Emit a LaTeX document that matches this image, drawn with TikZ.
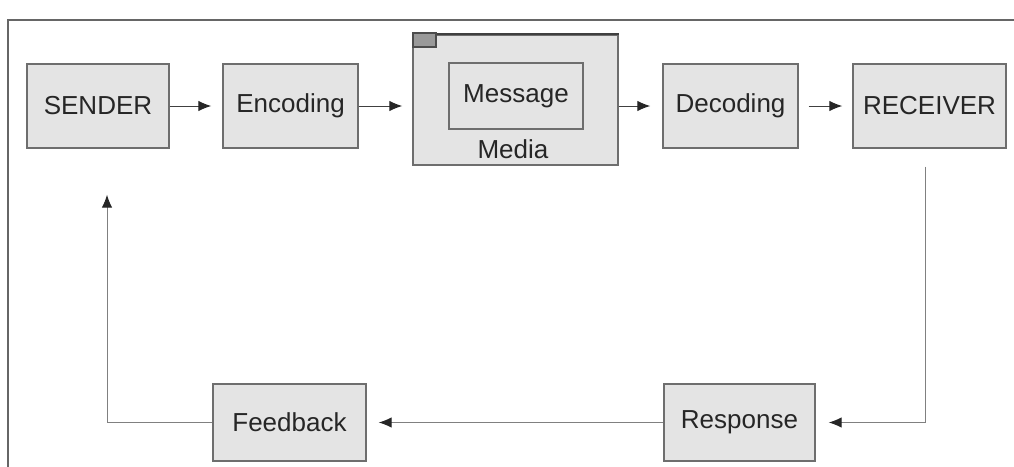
\documentclass[tikz,border=0pt]{standalone}
\usepackage{fontspec}
\setmainfont{Liberation Sans}
\usetikzlibrary{arrows.meta}

\definecolor{boxfondo}{HTML}{E4E4E4}
\definecolor{boxborde}{HTML}{6E6E6E}

\tikzset{
  caja/.style={draw=boxborde, fill=boxfondo, line width=1pt, text=black!85,
    minimum height=2.1cm, inner sep=0pt, font=\fontsize{18.5}{22}\selectfont},
  flecha/.style={-{Latex[length=3.2mm,width=2.6mm,color=black!85]}, draw=black!75, line width=0.7pt},
  retorno/.style={flecha, draw=black!50},
}

\begin{document}
\begin{tikzpicture}[x=0.025cm, y=-0.025cm]
  \useasboundingbox (0,0) rectangle (1014,467);

  % marco exterior
  \draw[black!60, line width=1.4pt] (8,467) -- (8,20) -- (1014,20);

  % fila de arriba
  \node[caja, minimum width=3.55cm]  (sender)   at (98,106)    {SENDER};
  \node[caja, minimum width=3.375cm] (encoding) at (290.5,106) {Encoding};
  \node[caja, minimum width=5.125cm, minimum height=3.25cm] (media) at (515.5,100) {};
  \draw[black!75, line width=1.6pt] (media.north west) -- (media.north east);
  \node[draw=black!70, fill=black!40, line width=1pt, minimum width=0.575cm,
    minimum height=0.35cm, inner sep=0pt, anchor=north west] (pestana)
    at ([yshift=0.05cm]media.north west) {};
  \node[caja, minimum width=3.35cm, minimum height=1.65cm] (message) at (516,96) {Message};
  \node[font=\fontsize{18.5}{22}\selectfont, text=black!85, inner sep=0pt, anchor=base]
    (medialabel) at (513,158) {Media};
  \node[caja, minimum width=3.375cm] (decoding) at (730.5,106) {Decoding};
  \node[caja, minimum width=3.825cm] (receiver) at (929.5,106) {RECEIVER};

  % fila de abajo
  \node[caja, minimum width=3.825cm, minimum height=1.925cm] (feedback) at (289.5,422.5) {Feedback};
  \node[caja, minimum width=3.775cm, minimum height=1.925cm] (response) at (739.5,422.5) {Response};

  % flechas
  \draw[flecha, shorten >=0.275cm] (sender) -- (encoding);
  \draw[flecha, shorten >=0.25cm] (encoding.east) -- (encoding.east -| media.west);
  \draw[flecha, shorten >=0.3cm] (media.east |- decoding) -- (decoding.west);
  \draw[flecha, shorten <=0.25cm, shorten >=0.25cm] (decoding) -- (receiver);

  % vuelta
  \draw[retorno, shorten <=0.45cm, shorten >=0.325cm]
    ([xshift=-0.1cm]receiver.south) |- (response.east);
  \draw[retorno, shorten >=0.3cm] (response) -- (feedback);
  \draw[retorno, shorten >=1.15cm] (feedback.west) -| ([xshift=0.225cm]sender.south);
\end{tikzpicture}
\end{document}
